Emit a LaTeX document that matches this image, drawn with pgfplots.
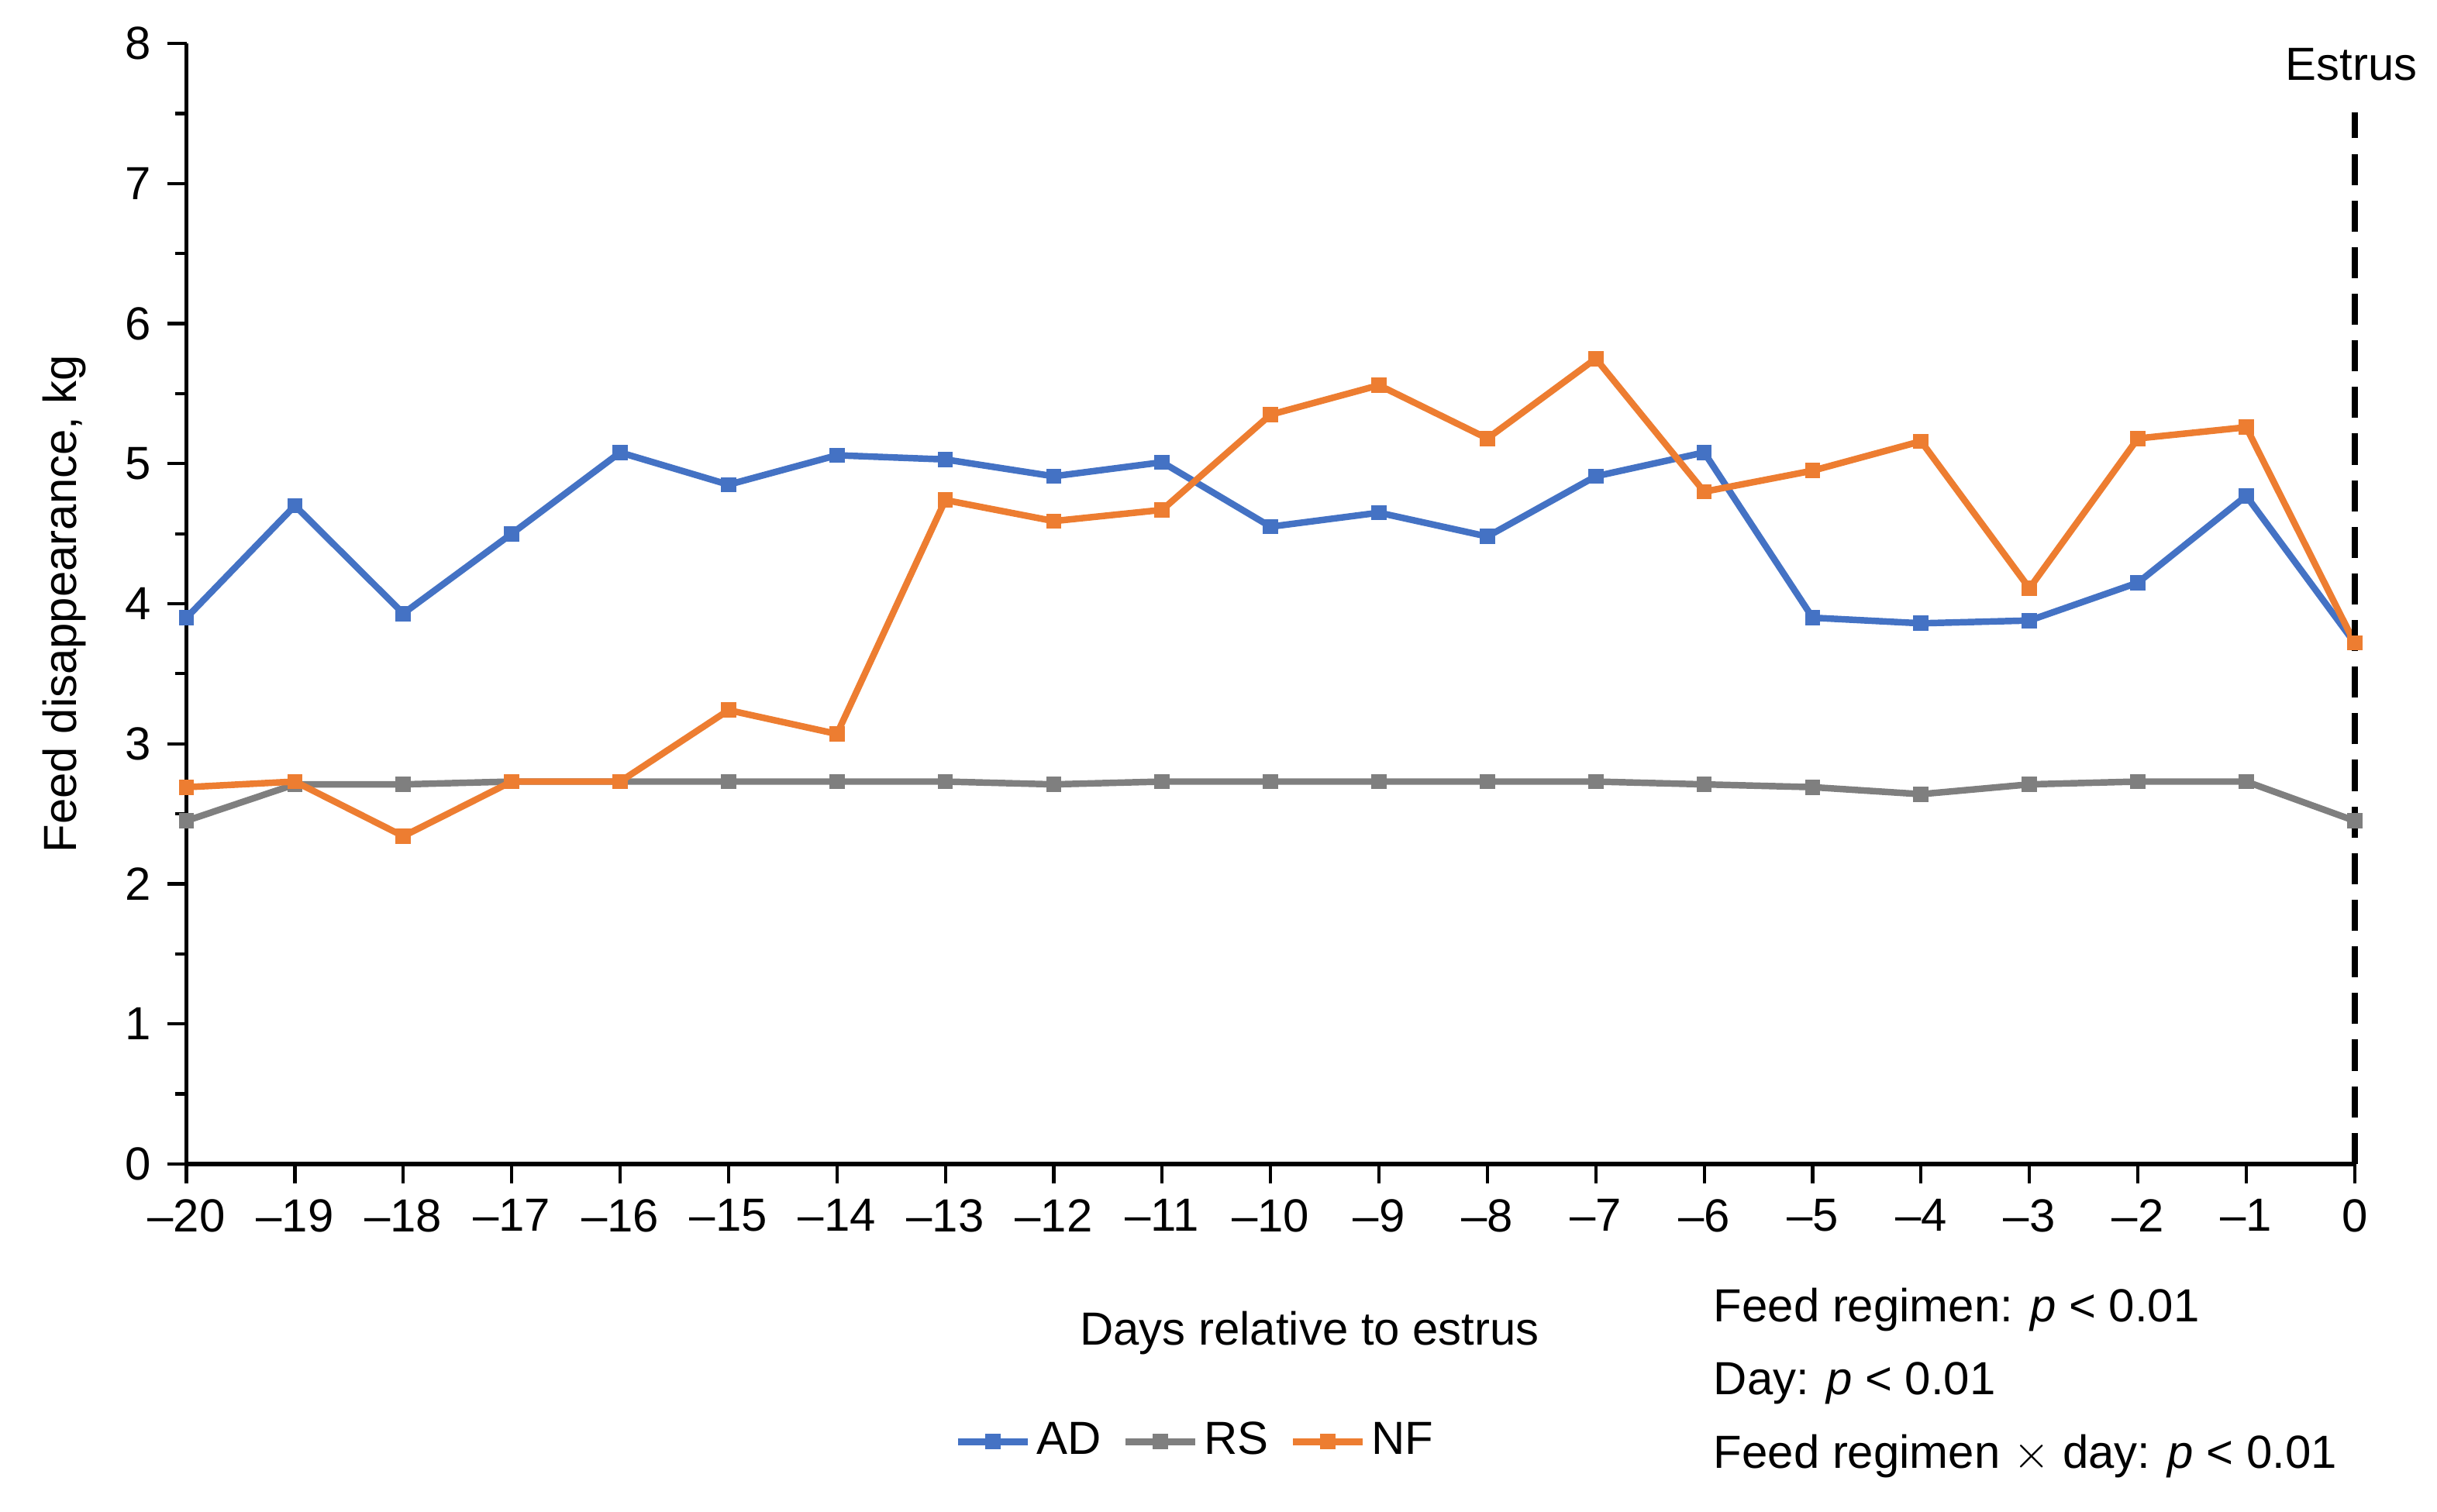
\documentclass[border=0pt]{standalone}
\usepackage{pgfplots}
\pgfplotsset{compat=1.18}
\usepackage{fontspec}
\setmainfont{Liberation Sans}
\definecolor{cAD}{HTML}{4472C4}
\definecolor{cRS}{HTML}{7F7F7F}
\definecolor{cNF}{HTML}{ED7D31}
\begin{document}
\fontsize{17}{20}\selectfont
\begin{tikzpicture}
\useasboundingbox (-2.4cm,-4.48cm) rectangle (28.96cm,14.98cm);
\begin{axis}[at={(0,0)},anchor=south west,scale only axis,
 width=27.9cm,height=14.42cm,
 xmin=-20,xmax=0,ymin=0,ymax=8,
 axis x line*=bottom, axis y line*=left,
 axis line style={line width=1.6pt,-},
 xtick={-20,...,0}, ytick={0,...,8}, minor ytick={0.5,1.5,...,7.5},
 xticklabels={\textendash20,\textendash19,\textendash18,\textendash17,\textendash16,\textendash15,\textendash14,\textendash13,\textendash12,\textendash11,\textendash10,\textendash9,\textendash8,\textendash7,\textendash6,\textendash5,\textendash4,\textendash3,\textendash2,\textendash1,0},
 tick align=outside, tick style={black,line width=1.2pt},
 major tick length=0.25cm, minor tick length=0.15cm,
 tick label style={font=\fontsize{17}{20}\selectfont},
 /pgf/number format/assume math mode=true,
 ylabel={Feed disappearance, kg},
 ylabel style={font=\fontsize{17}{20}\selectfont, yshift=0.1cm},
 clip=false,
 every axis plot/.append style={line width=2.4pt, mark=square*, mark size=1.6pt},
 legend style={at={(0.466,-0.248)},anchor=center,draw=none,legend columns=3,
   font=\fontsize{17}{20}\selectfont,/tikz/every even column/.append style={column sep=0.2cm}},
 legend image code/.code={\draw[#1] (0cm,0cm) -- (0.9cm,0cm); \draw[#1,mark repeat=1] plot coordinates {(0.45cm,0cm)};},
]
\addplot[cAD, mark options={fill=cAD}] coordinates {(-20,3.9)(-19,4.7)(-18,3.93)(-17,4.5)(-16,5.08)(-15,4.85)(-14,5.06)(-13,5.03)(-12,4.91)(-11,5.01)(-10,4.55)(-9,4.65)(-8,4.48)(-7,4.91)(-6,5.08)(-5,3.9)(-4,3.86)(-3,3.88)(-2,4.15)(-1,4.77)(0,3.72)};
\addlegendentry{AD}
\addplot[cRS, mark options={fill=cRS}] coordinates {(-20,2.45)(-19,2.71)(-18,2.71)(-17,2.73)(-16,2.73)(-15,2.73)(-14,2.73)(-13,2.73)(-12,2.71)(-11,2.73)(-10,2.73)(-9,2.73)(-8,2.73)(-7,2.73)(-6,2.71)(-5,2.69)(-4,2.64)(-3,2.71)(-2,2.73)(-1,2.73)(0,2.45)};
\addlegendentry{RS}
\addplot[cNF, mark options={fill=cNF}] coordinates {(-20,2.69)(-19,2.73)(-18,2.34)(-17,2.73)(-16,2.73)(-15,3.24)(-14,3.07)(-13,4.74)(-12,4.59)(-11,4.67)(-10,5.35)(-9,5.56)(-8,5.18)(-7,5.75)(-6,4.8)(-5,4.95)(-4,5.16)(-3,4.11)(-2,5.18)(-1,5.26)(0,3.72)};
\addlegendentry{NF}
\draw[black,line width=2.4pt,dash pattern=on 0.4cm off 0.2cm] (axis cs:0,0) -- (axis cs:0,7.51);
\node[anchor=south] at (axis cs:-0.03,7.62) {Estrus};
\node at (rel axis cs:0.518,-0.151) {Days relative to estrus};
\node[anchor=west] at (rel axis cs:0.697,-0.130) {Feed regimen: \textit{p} < 0.01};
\node[anchor=west] at (rel axis cs:0.697,-0.196) {Day: \textit{p} < 0.01};
\node[anchor=west] at (rel axis cs:0.697,-0.261) {Feed regimen $\times$ day: \textit{p} < 0.01};
\end{axis}
\end{tikzpicture}
\end{document}
